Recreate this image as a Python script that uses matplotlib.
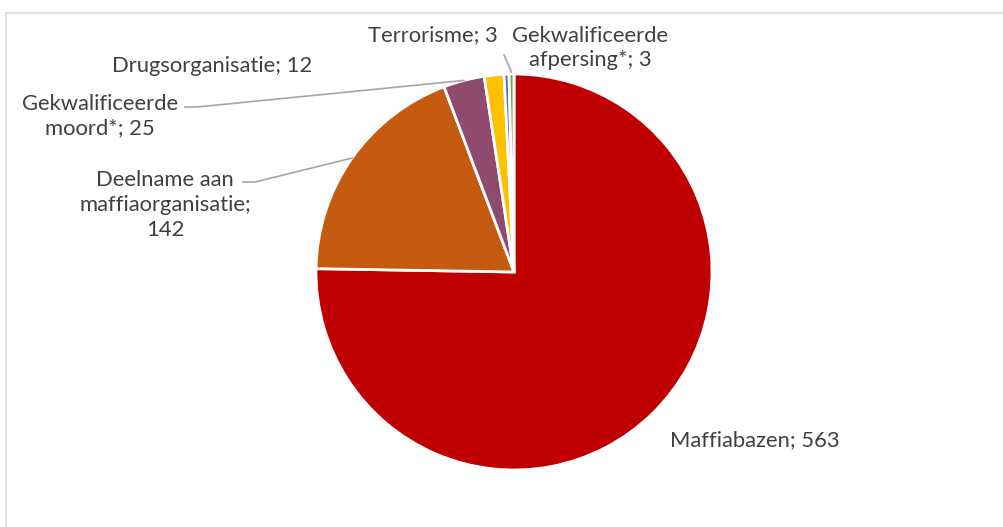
import numpy as np
import matplotlib.pyplot as plt
from matplotlib.patches import Rectangle

labels = ['Maffiabazen; ', 'Deelname aan\nmaffiaorganisatie;\n', 'Gekwalificeerde\nmoord*; ',
          'Drugsorganisatie; ', 'Terrorisme; ', 'Gekwalificeerde\nafpersing*; ']
values = [563, 142, 25, 12, 3, 3]
colors = ['#C00000', '#C55A11', '#8E4B6F', '#FFC000', '#4472C4', '#70AD47']

W, H = 1004, 527
fig = plt.figure(figsize=(W / 100, H / 100), dpi=100)
ax = fig.add_axes([0, 0, 1, 1])
ax.axis('off')

cx, cy, r = 514, H - 272, 198
wedges, _ = ax.pie(values, colors=colors, startangle=90, counterclock=False,
                   center=(cx, cy), radius=r,
                   wedgeprops=dict(edgecolor='white', linewidth=2))
ax.set_xlim(0, W)
ax.set_ylim(0, H)
ax.set_aspect('equal')

# chart border
ax.add_patch(Rectangle((6, -20), W + 40, H - 13 + 20, fill=False,
                       edgecolor='#D9D9D9', linewidth=1.2, clip_on=False))

txt = dict(color='#404040', fontsize=15.8, family='Lato', linespacing=1.3)

def edge_point(i):
    w = wedges[i]
    ang = np.deg2rad((w.theta1 + w.theta2) / 2)
    return cx + r * np.cos(ang), cy + r * np.sin(ang)

# label positions in image pixels
pos = [(670, 440, 'left'), (165, 205, 'center'), (100, 116, 'center'),
       (212, 66, 'center'), (433, 35, 'center'), (590, 48, 'center')]
for lab, v, (x, y, ha) in zip(labels, values, pos):
    ax.text(x, H - y, f'{lab}{v}', ha=ha, va='center', **txt)

# leader lines
lc = dict(color='#A6A6A6', linewidth=1.2)
ex, ey = edge_point(1)
ax.plot([243, 255, ex], [H - 182, H - 182, ey], **lc)
ex, ey = edge_point(2)
ax.plot([185, 197, ex], [H - 107, H - 107, ey], **lc)
ex, ey = edge_point(5)
ax.plot([504, ex], [H - 55, ey + 2], **lc)

fig.savefig('out.png', dpi=100)
